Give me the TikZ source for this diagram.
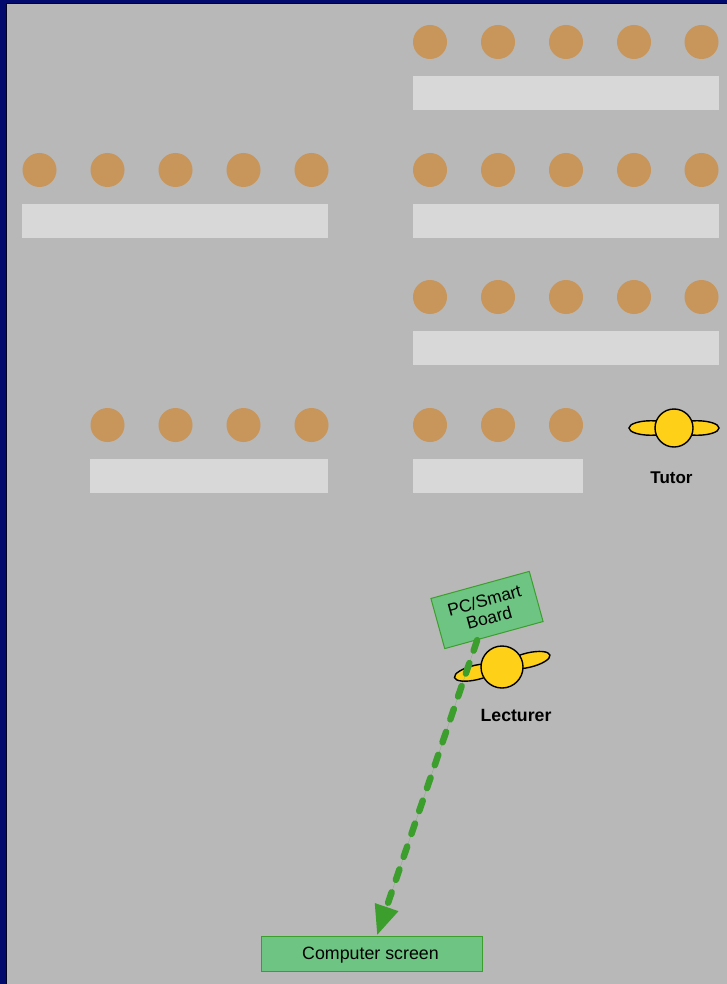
\documentclass[tikz,border=0pt]{standalone}
\usepackage{fontspec}
\setmainfont{Liberation Sans}
\usetikzlibrary{arrows.meta,calc,shapes.geometric}
\definecolor{navy}{RGB}{3,10,110}
\definecolor{floor}{RGB}{184,184,184}
\definecolor{clay}{RGB}{200,149,90}
\definecolor{desk}{RGB}{216,216,216}
\definecolor{sun}{RGB}{255,208,24}
\definecolor{moss}{RGB}{60,158,44}
\definecolor{mint}{RGB}{110,196,130}
\tikzset{
  >={Triangle[length=30pt,width=23pt]},
  seat/.style={circle,fill=clay,minimum size=34pt,inner sep=0pt},
  bench/.style={fill=desk,anchor=north west,minimum width=#1,minimum height=34pt,inner sep=0pt},
  head/.style={circle,draw=black,fill=sun,line width=1.4pt,minimum size=#1,inner sep=0pt},
  arm/.style={ellipse,draw=black,fill=sun,line width=1.4pt,minimum width=44pt,minimum height=14.5pt,inner sep=0pt},
  tag/.style={font=\fontsize{17}{20}\selectfont\bfseries},
  device/.style={draw=moss,fill=mint,line width=1pt,align=center,inner sep=0pt},
  link/.style={->,draw=moss,fill=moss,line width=6.5pt,line cap=round,dash pattern=on 11pt off 13.2pt},
}
\begin{document}
\begin{tikzpicture}[x=1pt,y=-1pt]
    \useasboundingbox (0,0) rectangle (727,984);
    % room
    \fill[navy] (0,0) rectangle (727,984);
    \fill[black!75!navy] (6,3) rectangle (727,984);
    \fill[floor] (7,4) rectangle (727,984);
    % right block
    \foreach \y/\n in {42/a,170/b,297/c}{
      \foreach \x [count=\i] in {430,498,566,634,701.5}
        \node[seat] (r\n\i) at (\x,\y) {};
      \node[bench=306pt] (deskr\n) at (413,\y+34) {};
    }
    % left block
    \foreach \x [count=\i] in {39.5,107.5,175.5,243.5,311.5}
      \node[seat] (lb\i) at (\x,170) {};
    \node[bench=306pt] (desklb) at (22,204) {};
    % front row
    \foreach \x [count=\i] in {107.5,175.5,243.5,311.5}
      \node[seat] (ld\i) at (\x,425) {};
    \node[bench=238pt] (deskld) at (90,459) {};
    \foreach \x [count=\i] in {430,498,566}
      \node[seat] (rd\i) at (\x,425) {};
    \node[bench=170pt] (deskrd) at (413,459) {};
    % tutor
    \node[arm] (tutorleft) at (651,428) {};
    \node[arm] (tutorright) at (697,428) {};
    \node[head=38pt] (tutor) at (674,428) {};
    \node[tag] (tutorname) at (671.5,478) {Tutor};
    % lecturer
    \node[arm,rotate=13.3] (lecturerleft) at (475.9,672.5) {};
    \node[arm,rotate=13.3] (lecturerright) at (528.5,660.1) {};
    \node[head=42pt] (lecturer) at (502,667) {};
    \node[tag,font=\fontsize{17.7}{20}\selectfont\bfseries] (lecturername) at (516,715) {Lecturer};
    % screens
    \node[device,minimum width=221pt,minimum height=35pt,text height=12pt,text depth=0pt,
      font=\fontsize{17.8}{20}\selectfont] (screen) at (371.5,953.5) {\hspace{-2pt}Computer screen};
    \node[device,minimum width=102pt,minimum height=52pt,rotate=15.4,
      font=\fontsize{17.4}{18}\selectfont] (board) at (487,610) {\raisebox{2pt}{PC/Smart}\\\raisebox{2pt}{Board}};
    \draw[link] ($(board.south west)!0.33!(board.south east)$) -- ([xshift=5.5pt]screen.north);
\end{tikzpicture}
\end{document}
